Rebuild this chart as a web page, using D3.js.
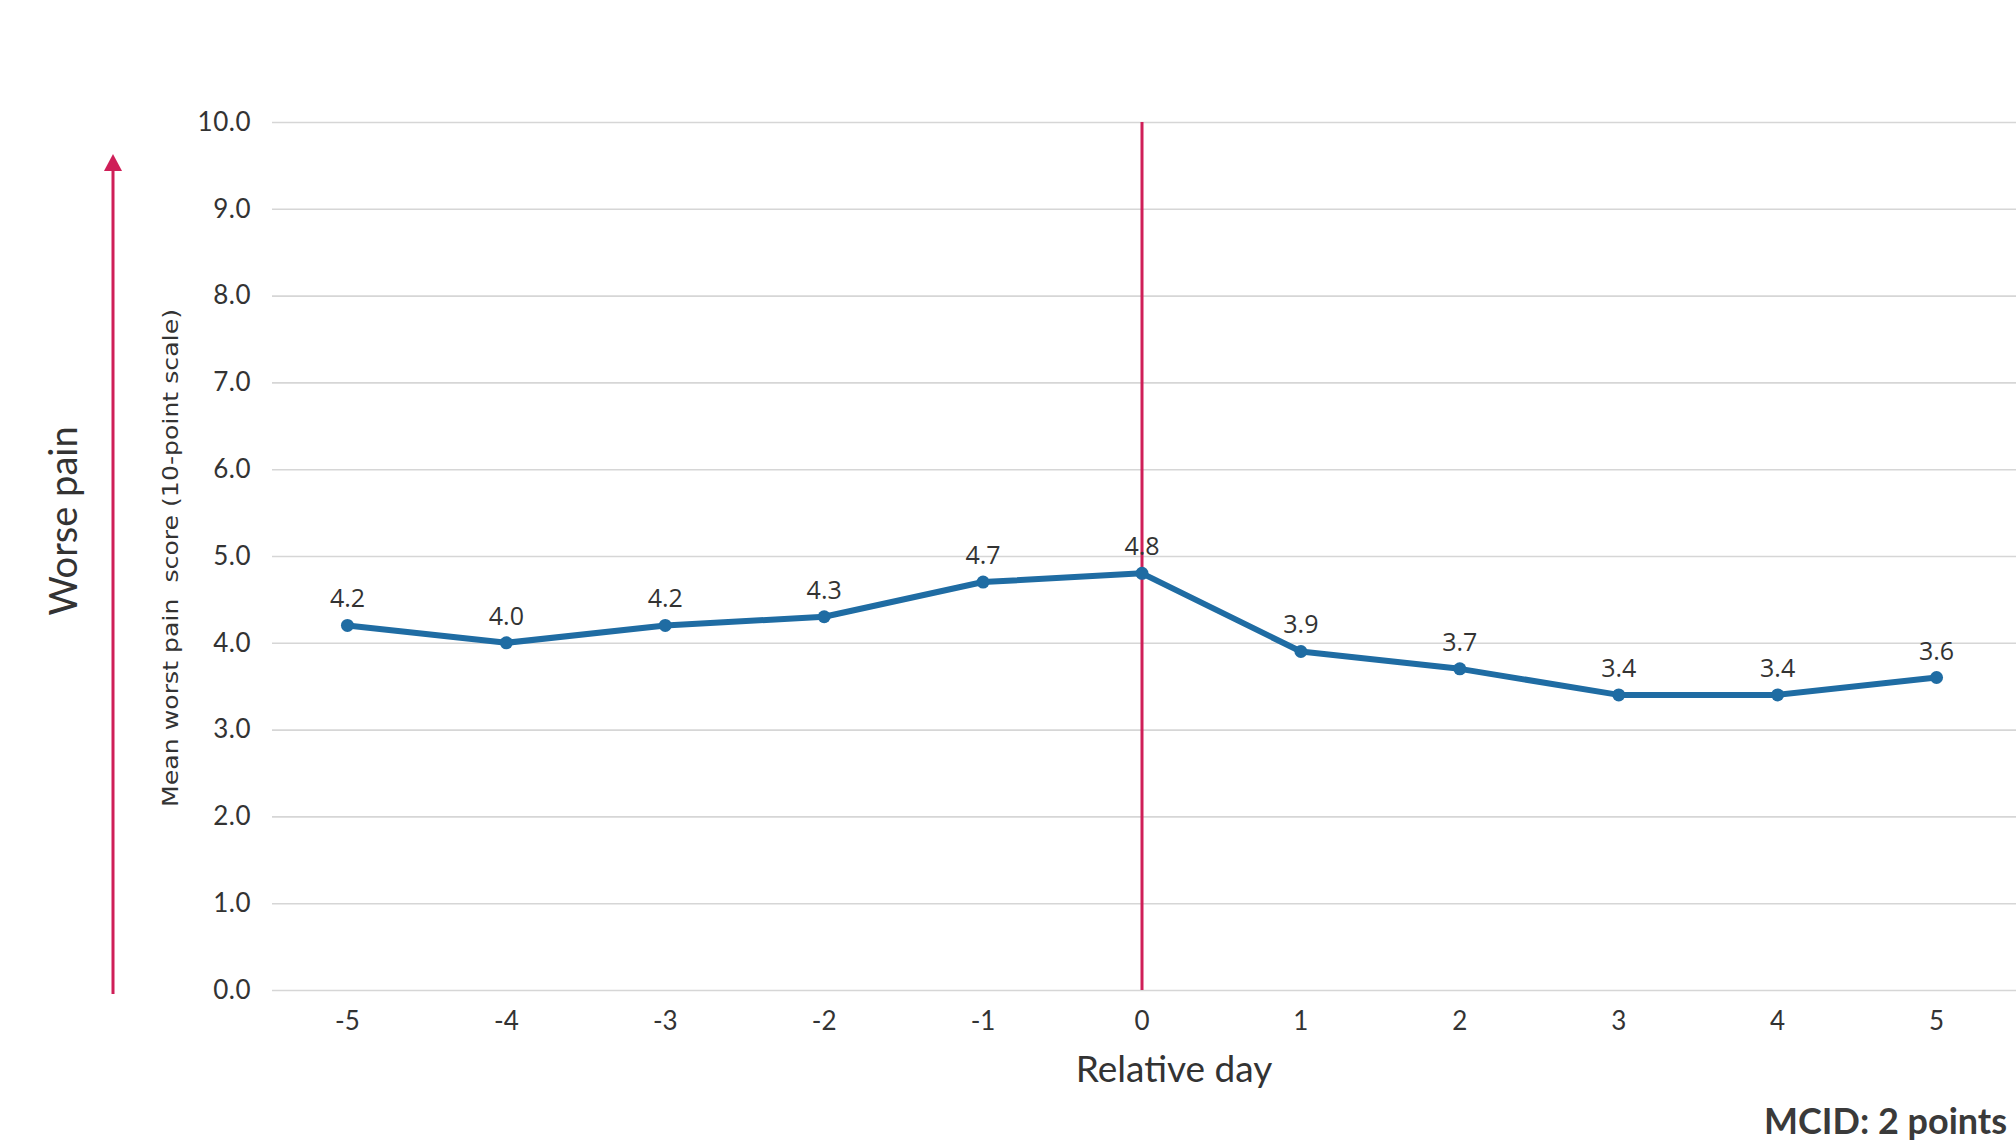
<!DOCTYPE html>
<html>
<head>
<meta charset="utf-8">
<script src="https://cdn.jsdelivr.net/npm/d3@7"></script>
<style>
  html, body { margin: 0; padding: 0; background: #fff; }
  svg { display: block; }
</style>
</head>
<body>
<script>
// Relative days around the index day and mean worst pain scores
const days = [-5, -4, -3, -2, -1, 0, 1, 2, 3, 4, 5];
const meanWorstPain = [4.2, 4.0, 4.2, 4.3, 4.7, 4.8, 3.9, 3.7, 3.4, 3.4, 3.6];
const yTicks = [0, 1, 2, 3, 4, 5, 6, 7, 8, 9, 10];
const markerDay = 0;

const W = 2016, H = 1143;
const svg = d3.select("body").append("svg").attr("width", W).attr("height", H);

const x = d3.scaleBand().domain(days).range([268, 2016]).padding(0);
const y = d3.scaleLinear().domain([0, 10]).range([990, 122]);
const cx = d => x(d) + x.bandwidth() / 2;

const textColor = "#333333";
const red = "#cf1f58";
const blue = "#1f6ca3";
const font = "Lato, 'Open Sans', sans-serif";

// Horizontal gridlines with value labels
const yAxis = svg.append("g")
  .attr("transform", "translate(272,0)")
  .call(d3.axisLeft(y).tickValues(yTicks).tickFormat(d3.format(".1f"))
    .tickSize(-(W - 272)).tickPadding(21));
yAxis.select(".domain").remove();
yAxis.selectAll(".tick line").attr("stroke", "#d6d6d6").attr("stroke-width", 1.6);
yAxis.selectAll(".tick text")
  .attr("fill", textColor).attr("font-family", font)
  .attr("font-size", 26).attr("letter-spacing", 0.5);

// Day labels
const xAxis = svg.append("g")
  .attr("transform", "translate(0,990)")
  .call(d3.axisBottom(x).tickSize(0).tickPadding(22));
xAxis.select(".domain").remove();
xAxis.selectAll(".tick text")
  .attr("fill", textColor).attr("font-family", font)
  .attr("font-size", 26);

// Index day marker
svg.append("line")
  .attr("x1", cx(markerDay)).attr("x2", cx(markerDay))
  .attr("y1", y(10)).attr("y2", y(0))
  .attr("stroke", red).attr("stroke-width", 3);

// Series line
const line = d3.line().x((d, i) => cx(days[i])).y(d => y(d));
svg.append("path")
  .datum(meanWorstPain)
  .attr("d", line)
  .attr("fill", "none")
  .attr("stroke", blue)
  .attr("stroke-width", 6)
  .attr("stroke-linejoin", "round");

svg.append("g").selectAll("circle")
  .data(meanWorstPain)
  .join("circle")
  .attr("cx", (d, i) => cx(days[i]))
  .attr("cy", d => y(d))
  .attr("r", 6.5)
  .attr("fill", blue);

// Value labels above each point
svg.append("g").selectAll("text")
  .data(meanWorstPain)
  .join("text")
  .attr("x", (d, i) => cx(days[i]))
  .attr("y", d => y(d) - 18)
  .attr("text-anchor", "middle")
  .attr("font-family", "'Open Sans', Lato, sans-serif")
  .attr("font-size", 25)
  .attr("fill", textColor)
  .text(d => d3.format(".1f")(d));

// Axis titles
svg.append("text")
  .attr("transform", "translate(1174,1067)")
  .attr("text-anchor", "middle")
  .attr("dominant-baseline", "central")
  .attr("font-family", font)
  .attr("font-size", 37)
  .attr("fill", textColor)
  .text("Relative day");

svg.append("text")
  .attr("transform", "translate(171,558) rotate(-90)")
  .attr("text-anchor", "middle")
  .attr("dominant-baseline", "central")
  .attr("font-family", "'DejaVu Sans Condensed', 'Liberation Sans Narrow', sans-serif")
  .attr("font-size", 21)
  .attr("textLength", 498)
  .attr("lengthAdjust", "spacingAndGlyphs")
  .attr("fill", textColor)
  .attr("xml:space", "preserve")
  .text("Mean worst pain  score (10-point scale)");

// "Worse pain" direction arrow
const arrowX = 113;
svg.append("line")
  .attr("x1", arrowX).attr("x2", arrowX)
  .attr("y1", 994).attr("y2", 168)
  .attr("stroke", red).attr("stroke-width", 3);
svg.append("path")
  .attr("d", `M${arrowX},154 L${arrowX + 9},171 L${arrowX - 9},171 Z`)
  .attr("fill", red);

svg.append("text")
  .attr("transform", "translate(62,521) rotate(-90)")
  .attr("text-anchor", "middle")
  .attr("dominant-baseline", "central")
  .attr("font-family", font)
  .attr("font-size", 38)
  .attr("fill", textColor)
  .text("Worse pain");

// Minimal clinically important difference note
svg.append("text")
  .attr("x", 1764).attr("y", 1134)
  .attr("font-family", font)
  .attr("font-weight", "bold")
  .attr("font-size", 36)
  .attr("fill", "#3a3a3a")
  .text("MCID: 2 points");
</script>
</body>
</html>
